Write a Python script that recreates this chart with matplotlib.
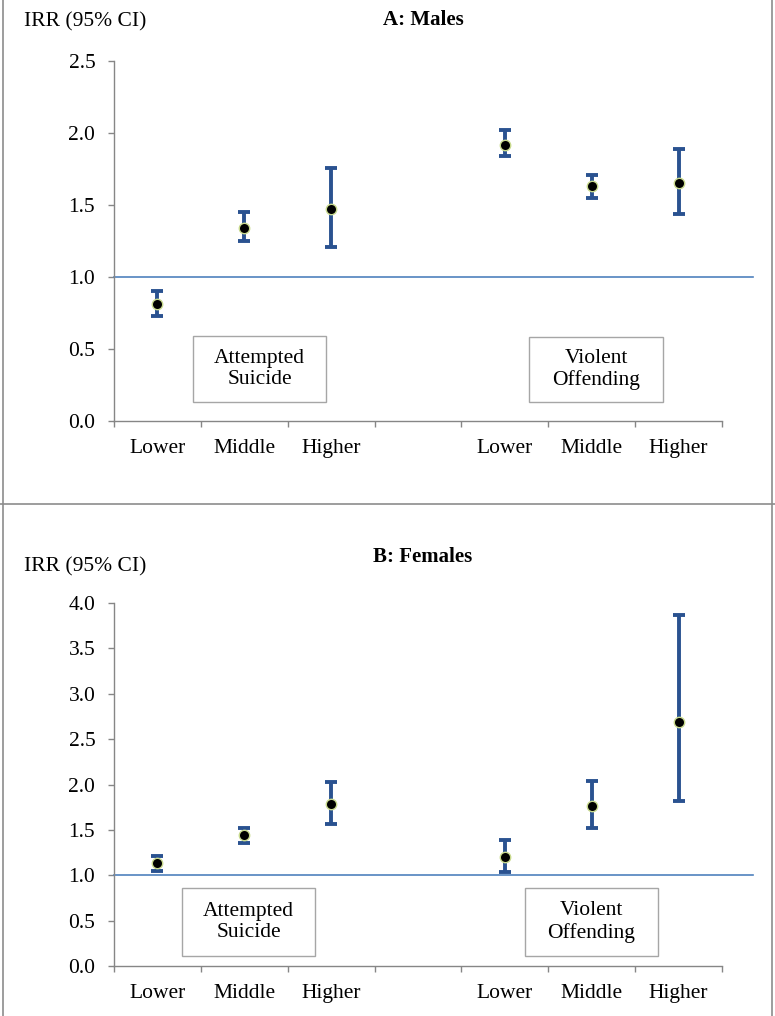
import matplotlib.pyplot as plt
import matplotlib.lines as mlines
import matplotlib.patches as mpatches
import numpy as np

plt.rcParams['font.family'] = ['Liberation Serif', 'DejaVu Serif']

# categories (empty slot separates the two outcomes)
cat_labels = ['Lower', 'Middle', 'Higher', '', 'Lower', 'Middle', 'Higher']
slots = [0, 1, 2, 4, 5, 6]

# A: Males
male_irr = [0.81, 1.34, 1.47, 1.92, 1.63, 1.65]
male_lo = [0.73, 1.25, 1.21, 1.84, 1.55, 1.44]
male_hi = [0.90, 1.45, 1.76, 2.02, 1.71, 1.89]

# B: Females
fem_irr = [1.13, 1.44, 1.78, 1.20, 1.76, 2.69]
fem_lo = [1.05, 1.35, 1.57, 1.04, 1.52, 1.82]
fem_hi = [1.21, 1.52, 2.03, 1.39, 2.04, 3.87]

W, H = 775, 1016
fig = plt.figure(figsize=(W / 100, H / 100), dpi=100)

GRAY = '#868686'
BAR = '#2A5290'
REF = '#4F81BD'
FS = 15.5


def px_axes(x0, x1, ytop, ybot):
    return fig.add_axes([x0 / W, 1 - ybot / H, (x1 - x0) / W, (ybot - ytop) / H])


def panel(ax, irr, lo, hi, ymax, title, title_y, lab_y, boxes):
    x = np.array(slots) + 0.5
    irr = np.array(irr)
    err = np.vstack([irr - np.array(lo), np.array(hi) - irr])
    ax.errorbar(x, irr, yerr=err, fmt='none', ecolor=BAR, elinewidth=2.8,
                capsize=4.5, capthick=2.8, zorder=3)
    ax.plot(x, irr, 'o', ms=7.5, mfc='black', mec='#C9DA8E', mew=1.0, zorder=4)
    ax.axhline(1.0, xmin=0, xmax=(753 - 114) / (722 - 114), color=REF, lw=1.2,
               clip_on=False, zorder=2)
    ax.set_xlim(0, 7)
    ax.set_ylim(0, ymax)
    ax.set_yticks(np.arange(0, ymax + 0.01, 0.5))
    ax.set_yticklabels(['%.1f' % v for v in np.arange(0, ymax + 0.01, 0.5)])
    ax.set_xticks(range(8))
    ax.set_xticklabels([])
    ax.set_xticks(np.arange(7) + 0.5, minor=True)
    ax.set_xticklabels(cat_labels, minor=True)
    ax.tick_params(axis='x', which='major', length=4, color=GRAY, width=1)
    ax.tick_params(axis='x', which='minor', length=0, pad=13, labelsize=FS)
    ax.tick_params(axis='y', length=4.5, color=GRAY, width=1, pad=9, labelsize=FS)
    for s in ['top', 'right']:
        ax.spines[s].set_visible(False)
    for s in ['left', 'bottom']:
        ax.spines[s].set_color(GRAY)
        ax.spines[s].set_linewidth(1)
    fig.text(423 / W, 1 - title_y / H, title, ha='center', va='center',
             fontsize=15, fontweight='bold')
    fig.text(24 / W, 1 - lab_y / H, 'IRR (95% CI)', ha='left', va='center',
             fontsize=FS)
    for (bx0, bx1, by0, by1, txt) in boxes:
        rect = mpatches.Rectangle((bx0 / W, 1 - by1 / H), (bx1 - bx0) / W,
                                  (by1 - by0) / H, transform=fig.transFigure,
                                  fill=False, ec='#A6A6A6', lw=1)
        fig.add_artist(rect)
        fig.text((bx0 + bx1) / 2 / W, 1 - (by0 + by1) / 2 / H, txt,
                 ha='center', va='center', fontsize=FS, linespacing=1.2)


ax1 = px_axes(114, 722, 61, 421)
panel(ax1, male_irr, male_lo, male_hi, 2.5, 'A: Males', 20, 22,
      [(193, 326, 336, 402, 'Attempted\nSuicide'),
       (529, 663, 337, 402, 'Violent\nOffending')])

ax2 = px_axes(114, 722, 603, 966)
panel(ax2, fem_irr, fem_lo, fem_hi, 4.0, 'B: Females', 557, 567,
      [(182, 315, 888, 956, 'Attempted\nSuicide'),
       (525, 658, 888, 956, 'Violent\nOffending')])

# panel frames
for (xa, xb, ya, yb) in [(3, 3, 0, H), (772, 772, 0, H), (0, W, 504, 504)]:
    fig.add_artist(mlines.Line2D([xa / W, xb / W], [1 - ya / H, 1 - yb / H],
                                 transform=fig.transFigure, color='#8C8C8C', lw=1.2))

fig.savefig('out.png', dpi=100)
